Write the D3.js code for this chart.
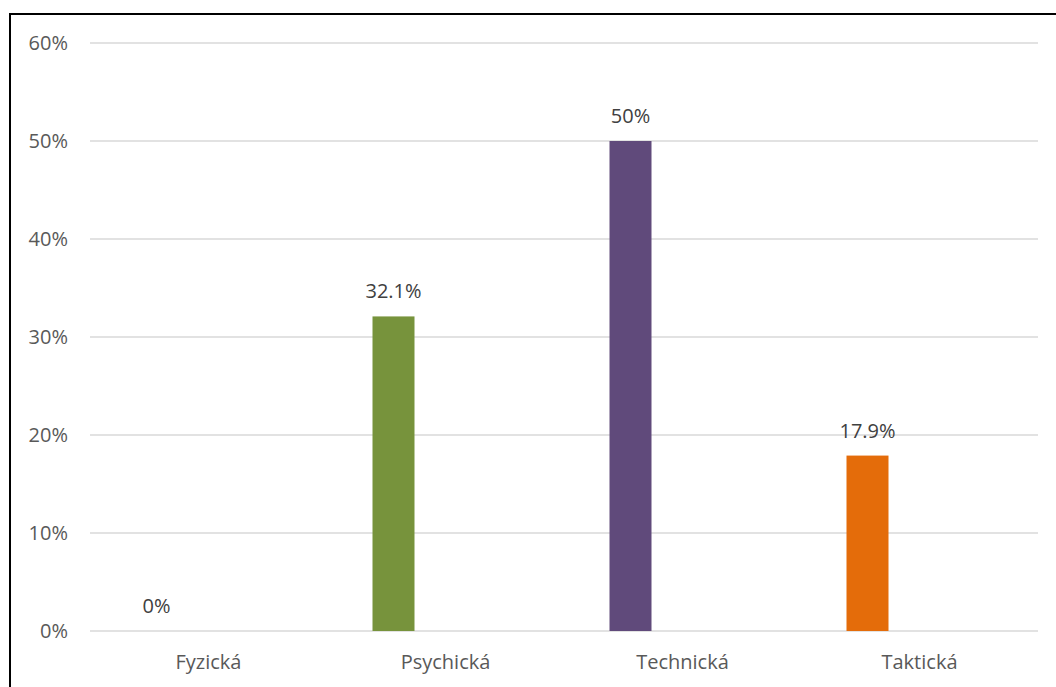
<!DOCTYPE html>
<html><head><meta charset="utf-8">
<script src="https://cdn.jsdelivr.net/npm/d3@7"></script>
<style>body{margin:0;background:#fff}svg{display:block}</style>
</head><body>
<svg id="c" width="1056" height="687"></svg>
<script>
const categories = ["Fyzická", "Psychická", "Technická", "Taktická"];
const values = [0, 32.1, 50, 17.9];
const valueLabels = ["0%", "32.1%", "50%", "17.9%"];
const colors = ["#4f81bd", "#77933c", "#604a7b", "#e46c0a"];
const yTicks = [0, 10, 20, 30, 40, 50, 60];

const svg = d3.select("#c");
const W = 1056, H = 687;
const m = {left: 90, right: 18, top: 43, bottom: 56};
const font = "'Open Sans', sans-serif";
const fs = 20;

// outer border
svg.append("rect").attr("x", 10).attr("y", 14).attr("width", W).attr("height", H)
  .attr("fill", "none").attr("stroke", "#000").attr("stroke-width", 2);

const x = d3.scaleBand().domain(categories).range([m.left, W - m.right]).padding(0);
const y = d3.scaleLinear().domain([0, 60]).range([H - m.bottom, m.top]);

// gridlines
svg.append("g").selectAll("line").data(yTicks).join("line")
  .attr("x1", m.left).attr("x2", W - m.right)
  .attr("y1", d => y(d)).attr("y2", d => y(d))
  .attr("stroke", "#d9d9d9").attr("stroke-width", 1.3);

// y labels
svg.append("g").selectAll("text").data(yTicks).join("text")
  .attr("x", 68).attr("y", d => y(d)).attr("dy", "0.35em")
  .attr("text-anchor", "end").attr("font-family", font).attr("font-size", fs)
  .attr("fill", "#595959").text(d => d + "%");

// bars (offset within each category band like the original clustered layout)
const barW = 42;
const barOffset = -73;
const barX = c => x(c) + x.bandwidth() / 2 + barOffset;
svg.append("g").selectAll("rect").data(categories).join("rect")
  .attr("x", c => barX(c)).attr("width", barW)
  .attr("y", (c, i) => y(values[i])).attr("height", (c, i) => y(0) - y(values[i]))
  .attr("fill", (c, i) => colors[i]);

// data labels
svg.append("g").selectAll("text").data(categories).join("text")
  .attr("x", c => barX(c) + barW / 2).attr("y", (c, i) => y(values[i]) - 25).attr("dy", "0.35em")
  .attr("text-anchor", "middle").attr("font-family", font).attr("font-size", fs)
  .attr("fill", "#404040").text((c, i) => valueLabels[i]);

// category labels
svg.append("g").selectAll("text").data(categories).join("text")
  .attr("x", c => x(c) + x.bandwidth() / 2).attr("y", y(0) + 31).attr("dy", "0.35em")
  .attr("text-anchor", "middle").attr("font-family", font).attr("font-size", fs)
  .attr("fill", "#595959").text(c => c);
</script>
</body></html>
